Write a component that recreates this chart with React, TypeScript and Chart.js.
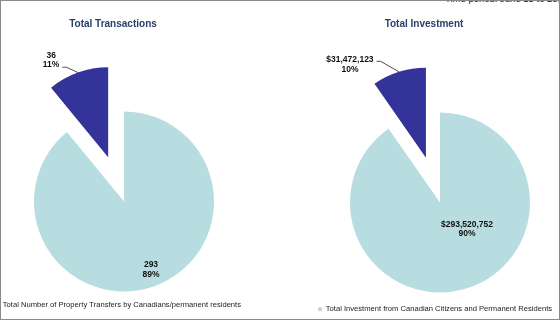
import React, { useEffect, useRef } from 'react';
import { Chart, registerables } from 'chart.js';

Chart.register(...registerables);

// ---- data ----
const chartTitles = ['Total Transactions', 'Total Investment'];
const transactionLabels = [
  'Total Number of Property Transfers by Canadians/permanent residents',
  'Total Number of Property Transfers by Foreign Nationals',
];
const transactionValues = [293, 36];
const investmentLabels = [
  'Total Investment from Canadian Citizens and Permanent Residents',
  'Total Investment from Foreign Nationals',
];
const investmentValues = [293520752, 31472123];
const timePeriodText = 'Time period: June 15 to 29, 2016';

const sliceColors = ['#B7DDE1', '#333399'];
const explodeBy = [0, 47];

const FONT = '"Liberation Sans", Arial, Helvetica, sans-serif';

// translate exploded slices fully along their bisector (no radius growth)
const explodePlugin = {
  id: 'explodeSlices',
  beforeDatasetsDraw(chart: any) {
    const meta = chart.getDatasetMeta(0);
    const ex: number[] = chart.data.datasets[0].explode || [];
    meta.data.forEach((arc: any, i: number) => {
      const d = ex[i] || 0;
      if (!d || arc.__exploded) return;
      const orig = arc.draw.bind(arc);
      arc.draw = function (ctx: CanvasRenderingContext2D) {
        const h = (this.startAngle + this.endAngle) / 2;
        ctx.save();
        ctx.translate(Math.cos(h) * d, Math.sin(h) * d);
        orig(ctx);
        ctx.restore();
      };
      arc.__exploded = true;
    });
  },
};

const sliceLabelPlugin = {
  id: 'sliceLabels',
  afterDatasetsDraw(chart: any, _args: any, opts: any) {
    const ctx: CanvasRenderingContext2D = chart.ctx;
    const ds = chart.data.datasets[0];
    const vals: number[] = ds.data;
    const total = vals.reduce((a, b) => a + b, 0);
    const meta = chart.getDatasetMeta(0);
    const lh = opts.lineHeight || 10;
    ctx.save();
    ctx.font = 'bold 8.5px ' + FONT;
    ctx.fillStyle = '#111';
    ctx.strokeStyle = '#222';
    ctx.lineWidth = 0.8;
    ctx.textAlign = 'center';
    ctx.textBaseline = 'middle';
    meta.data.forEach((arc: any, i: number) => {
      const p = arc.getProps(['x', 'y', 'startAngle', 'endAngle', 'outerRadius'], true);
      const lines = [opts.format(vals[i]), Math.round((vals[i] / total) * 100) + '%'];
      const pos = opts.positions[i];
      const h = (p.startAngle + p.endAngle) / 2;
      const ex = (ds.explode || [])[i] || 0;
      let cx: number, cy: number;
      if (pos.inside) {
        cx = p.x + pos.fx * p.outerRadius;
        cy = p.y + pos.fy * p.outerRadius;
      } else {
        const ax = p.x + Math.cos(h) * (p.outerRadius + ex);
        const ay = p.y + Math.sin(h) * (p.outerRadius + ex);
        cx = ax + pos.dx;
        cy = ay + pos.dy;
        const w = Math.max(...lines.map((t) => ctx.measureText(t).width));
        const sx = cx + w / 2 + 3;
        const sy = ay + pos.ly;
        ctx.beginPath();
        ctx.moveTo(sx, sy);
        ctx.lineTo(sx + 4, sy);
        ctx.lineTo(ax, ay);
        ctx.stroke();
      }
      lines.forEach((t, k) => {
        ctx.fillText(t, cx, cy + (k - (lines.length - 1) / 2) * lh);
      });
    });
    ctx.restore();
  },
};

function makeConfig(
  labels: string[],
  values: number[],
  padding: any,
  legendLabels: any,
  labelOpts: any
): any {
  return {
    type: 'pie',
    data: {
      labels,
      datasets: [
        {
          data: values,
          backgroundColor: sliceColors,
          borderWidth: 0,
          radius: 90,
          explode: explodeBy,
        },
      ],
    },
    options: {
      responsive: false,
      animation: false,
      layout: { padding },
      plugins: {
        title: { display: false },
        tooltip: { enabled: false },
        legend: {
          position: 'bottom',
          align: 'start',
          labels: {
            color: '#222',
            font: { family: FONT, size: 7.6 },
            padding: 10,
            filter: (item: any) => item.index === 0,
            ...legendLabels,
          },
        },
        sliceLabels: labelOpts,
      },
    },
    plugins: [explodePlugin, sliceLabelPlugin],
  };
}

export default function App() {
  const leftRef = useRef<HTMLCanvasElement>(null);
  const rightRef = useRef<HTMLCanvasElement>(null);

  useEffect(() => {
    const left = new Chart(
      leftRef.current as HTMLCanvasElement,
      makeConfig(
        transactionLabels,
        transactionValues,
        { top: 111.8, bottom: 2.2, left: 0, right: 30 },
        { boxWidth: 0, boxHeight: 0 },
        {
          lineHeight: 9.5,
          format: (v: number) => v.toLocaleString('en-US'),
          positions: [
            { inside: true, fx: 0.3, fy: 0.758 },
            { inside: false, dx: -26.7, dy: -12.6, ly: -5.3 },
          ],
        }
      )
    );
    const right = new Chart(
      rightRef.current as HTMLCanvasElement,
      makeConfig(
        investmentLabels,
        investmentValues,
        { top: 109.6, bottom: 0, left: 28, right: 0 },
        { boxWidth: 4, boxHeight: 4 },
        {
          lineHeight: 9.5,
          format: (v: number) => '$' + v.toLocaleString('en-US'),
          positions: [
            { inside: true, fx: 0.3, fy: 0.297 },
            { inside: false, dx: -49, dy: -7.3, ly: -10.5 },
          ],
        }
      )
    );
    return () => {
      left.destroy();
      right.destroy();
    };
  }, []);

  const titleStyle: React.CSSProperties = {
    position: 'absolute',
    top: 18,
    fontFamily: FONT,
    fontWeight: 'bold',
    fontSize: 10,
    lineHeight: '12px',
    color: '#27406D',
    textAlign: 'center',
    whiteSpace: 'nowrap',
  };

  return (
    <div
      style={{
        position: 'absolute',
        left: 0,
        top: 0,
        width: 560,
        height: 321,
        overflow: 'hidden',
        background: '#fff',
      }}
    >
      <div
        style={{
          position: 'absolute',
          left: 445,
          top: -7.5,
          fontFamily: FONT,
          fontSize: 9.5,
          lineHeight: '12px',
          color: '#222',
          whiteSpace: 'nowrap',
        }}
      >
        {timePeriodText}
      </div>
      <canvas
        ref={leftRef}
        width={300}
        height={321}
        style={{ position: 'absolute', left: -11, top: 0, width: 300, height: 321 }}
      />
      <canvas
        ref={rightRef}
        width={292}
        height={323}
        style={{ position: 'absolute', left: 280, top: 0, width: 292, height: 323 }}
      />
      <div style={{ ...titleStyle, left: 13, width: 200 }}>{chartTitles[0]}</div>
      <div style={{ ...titleStyle, left: 324, width: 200 }}>{chartTitles[1]}</div>
      <div
        style={{
          position: 'absolute',
          left: 0,
          top: 0,
          width: 560,
          height: 320,
          boxSizing: 'border-box',
          border: '1px solid #8a8a8a',
          pointerEvents: 'none',
        }}
      />
    </div>
  );
}
